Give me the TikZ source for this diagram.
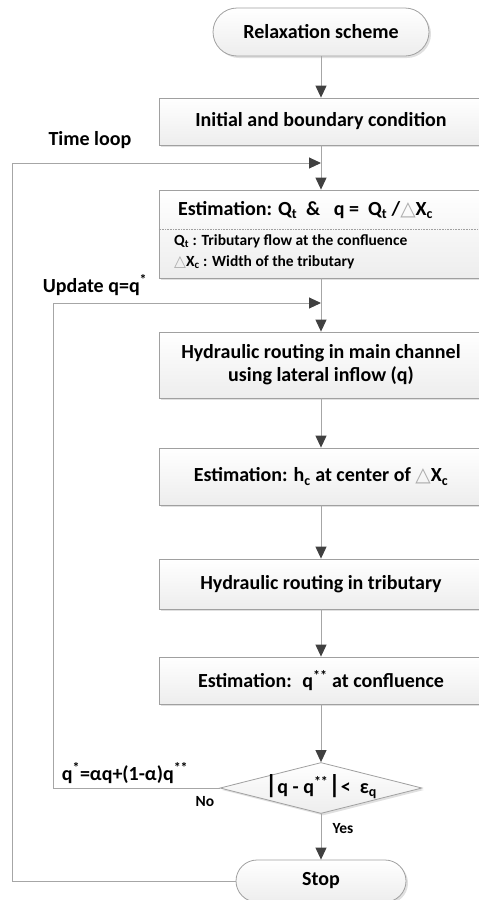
\documentclass[tikz,border=0pt]{standalone}
\usepackage{fontspec}
\setmainfont{Carlito}
\newfontfamily\dejavu{DejaVu Sans}
\usetikzlibrary{arrows.meta,shapes.geometric,shadows}
\definecolor{linegray}{HTML}{A6A6A6}
\definecolor{bordergray}{HTML}{A0A0A0}
\definecolor{tipgray}{HTML}{404040}
\newcommand\tri{{\color{gray!65}\dejavu △}}
\tikzset{
  boxstyle/.style={draw=bordergray, line width=0.8pt, top color=white, bottom color=gray!14,
    drop shadow={shadow xshift=2pt, shadow yshift=-2pt, opacity=0.35, fill=gray!70},
    font=\bfseries\fontsize{20}{23}\selectfont, align=center, inner sep=0pt},
  procbox/.style={boxstyle, rectangle, minimum width=324pt},
  termbox/.style={boxstyle, rectangle},
  decbox/.style={boxstyle, diamond, minimum width=202pt, minimum height=51pt, aspect=4},
  lbl/.style={font=\bfseries\fontsize{20}{23}\selectfont, inner sep=0pt},
  smalllbl/.style={font=\bfseries\fontsize{15.5}{18}\selectfont, inner sep=0pt},
  conn/.style={draw=linegray, line width=1pt},
  arr/.style={conn, -{Triangle[length=12pt,width=11pt,color=tipgray]}},
}
\begin{document}
\begin{tikzpicture}[x=1pt,y=-1pt]
\useasboundingbox (0,0) rectangle (479,900);
% nodes
\node[termbox, rounded corners=24pt, minimum width=216pt, minimum height=48pt] (start) at (321,32) {Relaxation scheme};
\node[procbox, minimum height=47pt] (init) at (321,121.5) {Initial and boundary condition};
\node[procbox, minimum height=88pt] (est) at (321,234) {};
\draw[bordergray, densely dotted, line width=0.6pt] (est.west |- 0,229) -- (est.east |- 0,229);
\node[lbl, anchor=west] (esttitle) at (178,210) {Estimation: Q\textsubscript{t}\ \ \& \ \ q = \ Q\textsubscript{t} /\tri X\textsubscript{c}};
\node[smalllbl, anchor=west] (estl1) at (174,241) {Q\textsubscript{t} : Tributary flow at the confluence};
\node[smalllbl, anchor=west] (estl2) at (174,262) {\tri X\textsubscript{c} : Width of the tributary};
\node[procbox, minimum height=66pt] (main) at (321,365) {Hydraulic routing in main channel\\using lateral inflow (q)};
\node[procbox, minimum height=57pt] (hc) at (321,476.5) {Estimation: h\textsubscript{c} at center of \tri X\textsubscript{c}};
\node[procbox, minimum height=50pt] (trib) at (321,584) {Hydraulic routing in tributary};
\node[procbox, minimum height=47pt] (qss) at (321,680.5) {Estimation: \ q\textsuperscript{**} at confluence};
\node[decbox] (dec) at (321,788) {};
\node[lbl] (dectext) at (321,787) {{\fontsize{26}{26}\selectfont|}q - q\textsuperscript{**}{\fontsize{26}{26}\selectfont|}< \ ε\textsubscript{q}};
\node[termbox, rounded corners=21pt, minimum width=170pt, minimum height=42pt] (stop) at (321,881) {Stop};
% labels
\node[lbl] (tl) at (90,140) {Time loop};
\node[lbl] (upd) at (95,285) {Update q=q\textsuperscript{*}};
\node[lbl] (form) at (125,773) {q\textsuperscript{*}=αq+(1-α)q\textsuperscript{**}};
\node[smalllbl] (no) at (205,802) {No};
\node[smalllbl] (yes) at (343,829) {Yes};
% junctions
\coordinate (j1) at (321,163);
\coordinate (j2) at (321,303);
\coordinate (l1a) at (12,881);
\coordinate (l1b) at (12,163);
\coordinate (l2a) at (53,788);
\coordinate (l2b) at (53,303);
% connectors
\draw[arr] (start) -- (init);
\draw[arr] (init) -- (est);
\draw[arr] (est) -- (main);
\draw[arr] (main) -- (hc);
\draw[arr] (hc) -- (trib);
\draw[arr] (trib) -- (qss);
\draw[arr] (qss) -- (dec);
\draw[arr] (dec) -- (stop);
\draw[arr] (stop.west) -- (l1a) -- (l1b) -- (j1);
\draw[arr] (dec.west) -- (l2a) -- (l2b) -- (j2);
\end{tikzpicture}
\end{document}
